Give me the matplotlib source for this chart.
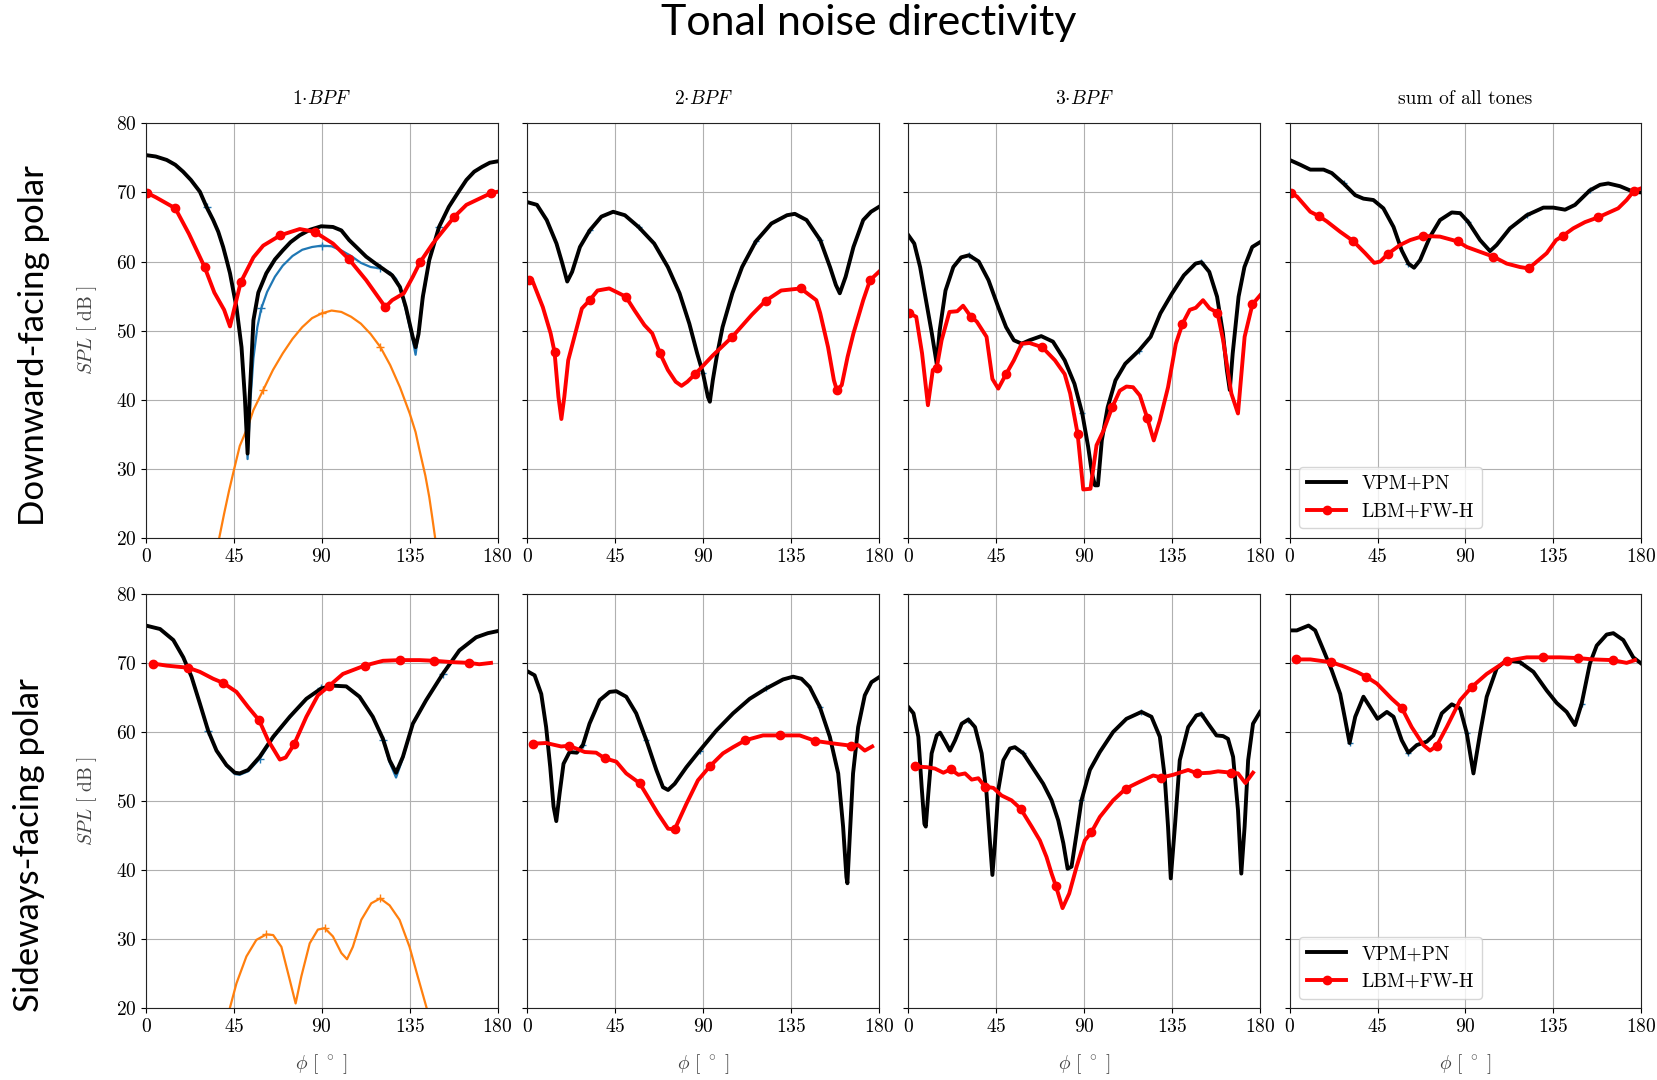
import numpy as np
import matplotlib
matplotlib.use('Agg')
import matplotlib.pyplot as plt

plt.rcParams['font.family'] = 'cmr10'
plt.rcParams['mathtext.fontset'] = 'cm'
plt.rcParams['axes.formatter.use_mathtext'] = True

# ---- downward-facing polar ----
# 1 BPF
d1_vpm_phi = [0, 5, 10.6, 15, 19, 23, 27.6, 31, 34.4, 37, 39.5, 41, 43, 46.3, 48.9, 50.6, 52, 53, 55, 57.5, 61.6,
              66, 70, 74, 78.7, 84, 89.7, 95.7, 100, 104, 108, 112.7, 117, 121, 126, 130, 133, 136.6, 138, 139.5,
              141.7, 145, 150, 155, 160, 164, 168, 172, 176, 180]
d1_vpm_spl = [75.4, 75.2, 74.7, 74, 73, 71.8, 70.1, 67.9, 66, 64.3, 62.1, 60.5, 58.3, 53.4, 47.6, 40.4, 32.2, 40,
              51.5, 55.5, 58.3, 60.3, 61.6, 62.8, 63.8, 64.6, 65.1, 65, 64.5, 63.1, 62, 60.7, 59.8, 59, 58, 56.3,
              53.4, 49, 47.6, 49.5, 54.9, 60.2, 65, 67.9, 70.1, 71.8, 73, 73.7, 74.3, 74.5]
d1_blue_phi = [0, 5, 10.6, 15, 19, 23, 27.6, 31, 34.4, 37, 39.5, 41, 43, 46.3, 48.9, 50.6, 52, 53.5, 55, 57, 59, 62,
               66, 70, 75, 80, 85, 90, 95, 100, 105, 110, 115, 120, 125, 128, 130, 133, 136.6, 138, 141.7, 145,
               150, 155, 160, 164, 168, 172, 176, 180]
d1_blue_spl = [75.4, 75.2, 74.7, 74, 73, 71.8, 70.1, 67.9, 66, 64.3, 62.1, 60.5, 58.3, 53.4, 47.6, 40.4, 31.4, 40,
               46, 50.5, 53.2, 55.6, 57.8, 59.4, 60.8, 61.7, 62.1, 62.3, 62.2, 61.6, 60.8, 59.8, 59.2, 59, 58.4,
               57.5, 56.2, 53, 48.5, 46.5, 54.5, 60.2, 65, 67.9, 70.1, 71.8, 73, 73.7, 74.3, 74.5]
d1_orange_phi = [37.5, 40, 42.5, 45, 48, 52, 55, 60, 65, 70, 75, 80, 85, 90, 95, 100, 105, 110, 115, 120, 125, 130,
                 135, 138, 140, 143, 145, 146.5, 148]
d1_orange_spl = [20, 23.5, 26.8, 29.8, 33.3, 36, 38.5, 41.4, 44.3, 46.7, 48.8, 50.5, 51.8, 52.5, 52.9, 52.7, 52,
                 51, 49.5, 47.6, 45, 41.8, 38, 35.3, 32.7, 29, 25.9, 23, 20]
d1_lbm_phi = [0.7, 5, 15, 22, 30, 35, 40, 43, 48.5, 55, 60, 68.8, 78.7, 86.3, 95.7, 104, 112.7, 122.5, 126, 132,
              136.6, 140.3, 146.8, 157.9, 164, 176.6, 180]
d1_lbm_spl = [69.9, 69.3, 67.7, 64, 59.2, 55.5, 53, 50.6, 57, 60.6, 62.3, 63.8, 64.7, 64.3, 62.6, 60.3, 57.3, 53.4,
              54.4, 55.4, 57.8, 59.9, 62.6, 66.5, 68.2, 69.9, 70.1]
d1_lbm_marks = [0.7, 15, 30, 48.5, 68.8, 86.3, 104, 122.5, 140.3, 157.9, 176.6]

# 2 BPF
d2_vpm_phi = [0, 5, 10, 15, 18, 20.5, 23, 27, 32, 38, 44, 50, 57, 65, 72, 78, 83, 87, 90, 92.5, 93.5, 95, 97, 100,
              105, 110, 117, 125, 133, 137, 143, 150, 155, 158, 160, 163, 167, 172, 176, 180]
d2_vpm_spl = [68.6, 68.2, 66, 62.6, 59.7, 57.1, 58.5, 62.1, 64.5, 66.5, 67.2, 66.7, 65, 62.6, 59.2, 55.4, 51, 46.7,
              43.8, 40.4, 39.7, 42.8, 46.2, 50.5, 55.4, 59.2, 62.9, 65.5, 66.7, 66.9, 66, 63.1, 59.2, 56.6, 55.4,
              57.8, 62.1, 66, 67.2, 67.9]
d2_lbm_phi = [0.8, 3, 8, 12, 14, 16, 17.5, 19, 21, 25, 28, 32, 36, 42, 47, 50.5, 55, 60, 64, 68, 72, 76, 79, 82, 86,
              95, 105, 115, 122, 130, 140, 148, 150, 154, 157, 158.5, 161, 164, 167, 172, 175.5, 180]
d2_lbm_spl = [57.3, 57, 53.4, 49.6, 46.9, 40.4, 37.2, 40.4, 45.7, 50, 53.2, 54.4, 55.8, 56.1, 55.4, 54.9, 52.9,
              50.8, 49.6, 46.7, 44.3, 42.6, 42, 42.6, 43.7, 46.4, 49.1, 52.3, 54.3, 55.8, 56.1, 54.4, 52.5, 47.6,
              42.8, 41.4, 42.1, 46.2, 49.6, 54.4, 57.3, 58.5]
d2_lbm_marks = [0.8, 14, 32, 50.5, 68, 86, 105, 122, 140, 158.5, 175.5]

# 3 BPF
d3_vpm_phi = [0, 3, 6, 9, 12, 14.5, 16, 19, 23, 27, 31, 36, 41, 46, 50, 54, 58, 62, 68, 74, 80, 85, 89, 92, 94,
              95.5, 97, 99, 102, 106, 111, 118, 124, 129, 135, 141, 147, 150, 154, 158, 161, 163, 164.5, 166, 169,
              172, 176, 180]
d3_vpm_spl = [63.8, 62.6, 59.2, 54.4, 49.6, 45.2, 50, 55.8, 59.2, 60.6, 60.9, 60, 57.3, 53.4, 50.5, 48.6, 48.1,
              48.6, 49.2, 48.4, 45.7, 42.3, 38, 33.2, 29.3, 27.6, 27.6, 34.1, 38.9, 42.8, 45.2, 47.1, 49.1, 52.5,
              55.4, 58, 59.7, 59.9, 58.5, 54.9, 49.6, 44.3, 41.4, 46.7, 54.9, 59.2, 62.1, 62.8]
d3_lbm_phi = [0.5, 4, 7, 10, 12.5, 14.5, 17, 21, 25, 28, 32, 35, 40, 43, 46, 50, 54, 58, 62, 68.5, 75, 80, 82.8,
              86.6, 89.5, 93.2, 96.3, 100, 104.3, 108.2, 111.6, 115, 118.5, 122.2, 125.6, 128.7, 132.9, 136.9,
              140.3, 144, 147.1, 150.8, 154.2, 158.2, 161.1, 165.3, 168.7, 172.1, 176.1, 180]
d3_lbm_spl = [52.5, 52, 46.7, 39.2, 44.3, 44.6, 48.6, 52.7, 52.8, 53.6, 52, 51.3, 49.1, 43, 41.6, 43.7, 45.7, 48.1,
              48.2, 47.6, 45.7, 43.7, 40.9, 35.1, 27, 27.1, 33.4, 35.6, 38.9, 41.3, 41.9, 41.8, 40.6, 37.4, 34.1,
              37, 41.8, 48.1, 51, 53, 53.3, 54.4, 53.2, 52.6, 48.6, 40.9, 38, 49.1, 53.8, 55.1]
d3_lbm_marks = [0.5, 14.5, 32, 50, 68.5, 86.6, 104.3, 122.2, 140.3, 158.2, 176.1]

# sum of all tones
ds_vpm_phi = [0, 5.5, 10.6, 17.4, 21.6, 27.6, 33.6, 37.8, 42.9, 48, 53.2, 57.4, 60.8, 63.7, 66.8, 71.9, 77, 83,
              87.3, 91.5, 97.5, 102.6, 106, 112.8, 121.4, 129.9, 135, 141, 146.1, 153.7, 158.9, 163.1, 169.1,
              175.9, 180]
ds_vpm_spl = [74.7, 74, 73.3, 73.3, 72.8, 71.3, 69.6, 69.1, 68.9, 67.7, 65, 61.6, 59.7, 59.1, 60.2, 63.6, 66, 67.1,
              67, 65.7, 63.1, 61.5, 62.4, 64.8, 66.7, 67.8, 67.8, 67.5, 68.2, 70.3, 71.1, 71.3, 70.9, 70.1, 70]
ds_lbm_phi = [0.7, 3.8, 10.6, 14.8, 19.1, 25.9, 32.4, 38.7, 43.3, 46.4, 50.3, 56.6, 61.7, 68.5, 77, 86.1, 90.7,
              97.5, 104.3, 111.1, 117.9, 122.4, 131.6, 136.4, 139.8, 145.2, 151.2, 158, 168.2, 172.5, 176.2, 180]
ds_lbm_spl = [69.9, 69.4, 67.2, 66.6, 65.8, 64.3, 63, 61.2, 59.8, 60, 61.1, 62.4, 63.1, 63.7, 63.6, 62.9, 62.1,
              61.4, 60.7, 59.7, 59.2, 59, 61.2, 63.1, 63.7, 64.8, 65.7, 66.4, 67.7, 68.9, 70.2, 70.6]
ds_lbm_marks = [0.7, 14.8, 32.4, 50.3, 68.5, 86.1, 104.3, 122.4, 139.8, 158, 176.2]

# ---- sideways-facing polar ----
# 1 BPF
s1_vpm_phi = [0, 7.2, 14, 19.1, 23.3, 27.6, 31.8, 36.1, 41.2, 45.5, 48, 52.3, 58.2, 65.1, 73.6, 82.1, 89.7, 95.7,
              102.5, 109.3, 116.1, 121.3, 124.7, 128, 131.5, 136.6, 143.4, 151.9, 160.4, 169, 175, 180]
s1_vpm_spl = [75.4, 74.9, 73.3, 70.8, 68, 64.1, 60.2, 57.3, 55.2, 54.1, 54, 54.5, 56.4, 59.3, 62.2, 64.8, 66.3,
              66.7, 66.6, 65.1, 62.2, 59, 55.9, 54.1, 56.4, 61.2, 64.6, 68.4, 71.8, 73.7, 74.3, 74.6]
s1_blue_phi = [0, 7.2, 14, 19.1, 23.3, 27.6, 31.8, 36.1, 41.2, 45.5, 48, 52.3, 58.2, 65.1, 73.6, 82.1, 89.7, 95.7,
               102.5, 109.3, 116.1, 121.3, 124.7, 128, 131.5, 136.6, 143.4, 151.9, 160.4, 169, 175, 180]
s1_blue_spl = [75.4, 74.9, 73.3, 70.8, 68, 64.1, 60.2, 57.3, 55.1, 53.9, 53.8, 54.3, 56.1, 59.1, 62.1, 64.8, 66.3,
               66.7, 66.6, 65.1, 62.2, 58.9, 55.6, 53.4, 56.2, 61.2, 64.6, 68.4, 71.8, 73.7, 74.3, 74.6]
s1_orange_phi = [42.9, 46.3, 51.4, 56.5, 61.6, 65.1, 69.3, 73.6, 76.6, 79.5, 83.8, 88, 91.5, 95.7, 100, 102.9,
                 105.9, 110.2, 115.3, 119.9, 124.7, 129.8, 134.9, 139.1, 143.7]
s1_orange_spl = [20, 23.6, 27.5, 29.9, 30.7, 30.6, 28.9, 24.1, 20.7, 24.6, 29.4, 31.4, 31.6, 30.4, 28, 27.1, 28.9,
                 32.8, 35.2, 35.9, 34.9, 32.8, 28.9, 24.6, 20]
s1_lbm_phi = [3.7, 10.6, 21.6, 27.6, 34.4, 39.5, 46.3, 52.3, 57.9, 62.5, 68.5, 71.5, 75.8, 82.1, 88, 93.5, 100.8,
              111.9, 121.3, 129.8, 140, 147.6, 157, 165.5, 170.6, 176.6]
s1_lbm_spl = [69.9, 69.6, 69.3, 68.7, 67.7, 67.1, 65.8, 63.6, 61.7, 58.8, 56, 56.3, 58.2, 62.2, 65.3, 66.6, 68.4,
              69.6, 70.3, 70.4, 70.4, 70.3, 70.1, 70, 69.8, 70]
s1_lbm_marks = [3.7, 21.6, 39.5, 57.9, 75.8, 93.5, 111.9, 129.8, 147.6, 165.5]

# 2 BPF
s2_vpm_phi = [0, 3.8, 7.2, 9.7, 11.8, 13.5, 14.9, 16.6, 18.6, 21.7, 25.4, 28.5, 31.9, 37.1, 42.2, 45.6, 50.7, 55.8,
              61, 66.1, 69.5, 72.1, 75.5, 81.5, 88.3, 96.8, 105.4, 113.9, 122.4, 131, 136.1, 140.4, 144.6, 149.8,
              154.9, 159.2, 161.7, 163.4, 163.9, 165.1, 166.8, 169.4, 172.8, 176.2, 180]
s2_vpm_spl = [68.8, 68.2, 65.5, 60.7, 54.9, 49.2, 47.1, 51.1, 55.4, 57.1, 57, 58.1, 61.2, 64.6, 65.8, 65.9, 65.1,
              62.7, 58.8, 54.5, 52, 51.6, 52.5, 54.9, 57.3, 60.2, 62.7, 64.8, 66.3, 67.6, 68, 67.7, 66.5, 63.6, 59.3,
              54, 46.3, 39, 38.1, 44.8, 54, 60.7, 65.3, 67.2, 67.9]
s2_lbm_phi = [2.9, 9.7, 17.4, 21.2, 25.1, 29.4, 35.3, 39.6, 45.6, 50.7, 57.5, 61.8, 66.9, 72.1, 75.5, 81.5, 87.4,
              93.4, 100.2, 105.4, 111.7, 120.7, 129.6, 139.5, 147.5, 154.9, 166, 169.4, 172.8, 176.6]
s2_lbm_spl = [58.3, 58.4, 57.9, 58, 57.6, 57.1, 57, 56.2, 55.7, 54, 52.6, 50.6, 48.2, 46, 45.9, 49.6, 53, 55, 56.9,
              57.8, 58.8, 59.5, 59.5, 59.5, 58.7, 58.4, 58, 58.1, 57.3, 57.9]
s2_lbm_marks = [2.9, 21.2, 39.6, 57.5, 75.5, 93.4, 111.7, 129.6, 147.5, 166]

# 3 BPF
s3_vpm_phi = [0, 2.6, 5.1, 6.8, 8.2, 8.9, 10.2, 11.9, 14.5, 16.2, 18.8, 21.3, 23.9, 27.3, 30.7, 34.1, 37.5, 40,
              41.8, 43, 44.3, 46, 48.6, 52, 54.5, 58.8, 63.9, 69, 73.3, 76.7, 79.3, 81.5, 83.5, 86.1, 88.6, 92.9,
              98, 104.8, 111.6, 119.3, 124.4, 128.7, 131.2, 132.9, 134.3, 136.4, 138.9, 143.2, 147.4, 150, 153.4,
              157.7, 161.1, 163.6, 166.2, 168.7, 170.4, 172.1, 173.9, 176.4, 180]
s3_vpm_spl = [63.6, 62.7, 59.3, 52, 46.7, 46.3, 51.1, 56.9, 59.5, 59.9, 58.6, 57.3, 58.8, 61.2, 61.8, 60.7, 56.9,
              51.1, 43.9, 39.3, 43.9, 51.6, 55.9, 57.6, 57.8, 56.9, 54.7, 52.5, 50.1, 47.2, 43.9, 40.2, 40.5, 45.3,
              50.1, 54.5, 57.1, 60, 61.9, 62.9, 62.2, 59.3, 53.5, 46.3, 38.8, 46.3, 55.9, 60.7, 62.4, 62.6, 61.2,
              59.5, 59.4, 59, 56.4, 48.7, 39.5, 46.3, 55.9, 61.2, 62.9]
s3_lbm_phi = [3.4, 9.4, 13.6, 17.9, 21.6, 25.6, 29, 32.4, 35.8, 39.2, 43.5, 47.7, 52.8, 57.4, 63.1, 67.3, 70.7,
              73.3, 75.5, 78.9, 82.3, 86.1, 90.3, 93.7, 98, 104.8, 111.3, 118.5, 125.3, 129.5, 135.5, 143.2, 147.8,
              154.3, 158.5, 165.3, 168.7, 172.5, 176.4]
s3_lbm_spl = [55, 54.9, 54.7, 54.1, 54.6, 53.8, 54, 53.1, 53.3, 52.1, 51.9, 50.8, 50.1, 48.9, 46.3, 44.3, 41.9,
              39.5, 37.7, 34.5, 36.6, 40.5, 44.3, 45.5, 47.7, 50.1, 51.8, 52.8, 53.7, 53.4, 53.8, 54.5, 54, 54.1,
              54.3, 54.1, 54, 52.6, 54.1]
s3_lbm_marks = [3.4, 21.6, 39.2, 57.4, 75.5, 93.7, 111.3, 129.5, 147.8, 165.3]

# sum of all tones
ss_vpm_phi = [0, 3.7, 9.7, 13.1, 17.4, 21.6, 25.9, 28.5, 30.7, 33.6, 37.8, 41.2, 45, 49.8, 53.2, 57.4, 60.8, 65.1,
              70.2, 73.6, 77.9, 83, 87.3, 90.7, 94.1, 97.5, 100.9, 106, 111.1, 117.9, 124.8, 131.6, 136.7, 141.8,
              146.1, 149.5, 153.7, 157.2, 162.3, 165.7, 170.8, 175.9, 180]
ss_vpm_spl = [74.7, 74.7, 75.4, 74.7, 71.8, 68.9, 65.5, 61.7, 58.4, 62.2, 65.1, 63.6, 61.9, 62.9, 62.2, 58.8, 57,
              58.1, 58.6, 59.5, 62.7, 64, 63.4, 59.8, 54, 59.8, 65.1, 69.2, 70.4, 70.1, 68.7, 66, 64.2, 62.9, 61,
              64.1, 69.9, 72.5, 74.1, 74.3, 73.3, 70.8, 69.9]
ss_lbm_phi = [3.4, 10.6, 15.7, 21.3, 27.6, 34.4, 39.2, 44.7, 52.3, 57.4, 62.5, 68.5, 71.9, 75.3, 80.4, 87.3, 93.2,
              100.9, 111.1, 121.4, 129.5, 138.4, 147.4, 155.4, 165.3, 172.5, 176.8]
ss_lbm_spl = [70.5, 70.5, 70.3, 70.1, 69.5, 68.7, 68, 67, 64.8, 63.5, 60.7, 58.1, 57.3, 58, 60.7, 64.6, 66.5, 68.4,
              70.3, 70.8, 70.8, 70.8, 70.7, 70.5, 70.4, 70, 70.4]
ss_lbm_marks = [3.4, 21.3, 39.2, 57.4, 75.3, 93.2, 111.1, 129.5, 147.4, 165.3]

col_titles = [r'$1{\cdot}BPF$', r'$2{\cdot}BPF$', r'$3{\cdot}BPF$', 'sum of all tones']
row_titles = ['Downward-facing polar', 'Sideways-facing polar']
mark_angles = [30, 60, 90, 120, 150]

panels = [
    [(d1_vpm_phi, d1_vpm_spl, d1_blue_phi, d1_blue_spl, d1_orange_phi, d1_orange_spl, d1_lbm_phi, d1_lbm_spl, d1_lbm_marks),
     (d2_vpm_phi, d2_vpm_spl, d2_vpm_phi, d2_vpm_spl, None, None, d2_lbm_phi, d2_lbm_spl, d2_lbm_marks),
     (d3_vpm_phi, d3_vpm_spl, d3_vpm_phi, d3_vpm_spl, None, None, d3_lbm_phi, d3_lbm_spl, d3_lbm_marks),
     (ds_vpm_phi, ds_vpm_spl, ds_vpm_phi, ds_vpm_spl, None, None, ds_lbm_phi, ds_lbm_spl, ds_lbm_marks)],
    [(s1_vpm_phi, s1_vpm_spl, s1_blue_phi, s1_blue_spl, s1_orange_phi, s1_orange_spl, s1_lbm_phi, s1_lbm_spl, s1_lbm_marks),
     (s2_vpm_phi, s2_vpm_spl, s2_vpm_phi, s2_vpm_spl, None, None, s2_lbm_phi, s2_lbm_spl, s2_lbm_marks),
     (s3_vpm_phi, s3_vpm_spl, s3_vpm_phi, s3_vpm_spl, None, None, s3_lbm_phi, s3_lbm_spl, s3_lbm_marks),
     (ss_vpm_phi, ss_vpm_spl, ss_vpm_phi, ss_vpm_spl, None, None, ss_lbm_phi, ss_lbm_spl, ss_lbm_marks)],
]


def nearest(phi, angles):
    phi = np.asarray(phi)
    return [int(np.argmin(np.abs(phi - a))) for a in angles if phi.min() <= a <= phi.max()]


fig, axes = plt.subplots(2, 4, figsize=(16.57, 10.8), dpi=100, sharey=True)
fig.subplots_adjust(left=0.0881, right=0.9905, top=0.8858, bottom=0.0664, wspace=0.084, hspace=0.135)

for r in range(2):
    for c in range(4):
        ax = axes[r, c]
        vp, vs, bp, bs, op, os_, lp, ls, lm = panels[r][c]
        # blue sits under the black curve; its markers only show where the two differ
        ms_blue = 6 if c == 0 else 4
        ax.plot(bp, bs, color='tab:blue', lw=1.6, marker='+', ms=ms_blue, markevery=nearest(bp, mark_angles))
        if op is not None:
            ax.plot(op, os_, color='tab:orange', lw=1.6, marker='+', ms=6, markevery=nearest(op, mark_angles))
        ax.plot(vp, vs, color='black', lw=2.8, label='VPM+PN')
        ax.plot(lp, ls, color='red', lw=2.8, marker='o', ms=6, markevery=nearest(lp, lm), label='LBM+FW-H')
        ax.set_xlim(0, 180)
        ax.set_ylim(20, 80)
        ax.set_xticks([0, 45, 90, 135, 180])
        ax.set_yticks([20, 30, 40, 50, 60, 70, 80])
        ax.grid(True, color='#b0b0b0', lw=0.8)
        ax.tick_params(labelsize=14)
        for s in ax.spines.values():
            s.set_color('#222222')
        if r == 0:
            ax.set_title(col_titles[c], fontsize=14, pad=14)
        if r == 1:
            ax.set_xlabel(r'$\phi\ [\ ^\circ\ ]$', fontsize=14, labelpad=12, color='#444444')
        if c == 0:
            ax.set_ylabel(r'$SPL\ [\ \mathrm{dB}\ ]$', fontsize=14, labelpad=12, color='#444444')
        if c == 3:
            ax.legend(loc='lower left', fontsize=14)

fig.text(0.524, 0.979, 'Tonal noise directivity', fontsize=31, family='Lato', ha='center', va='center')
fig.text(0.0205, 0.680, row_titles[0], fontsize=25, family='Lato', rotation=90, ha='center', va='center')
fig.text(0.0175, 0.2176, row_titles[1], fontsize=25, family='Lato', rotation=90, ha='center', va='center')

fig.savefig('out.png', dpi=100)
